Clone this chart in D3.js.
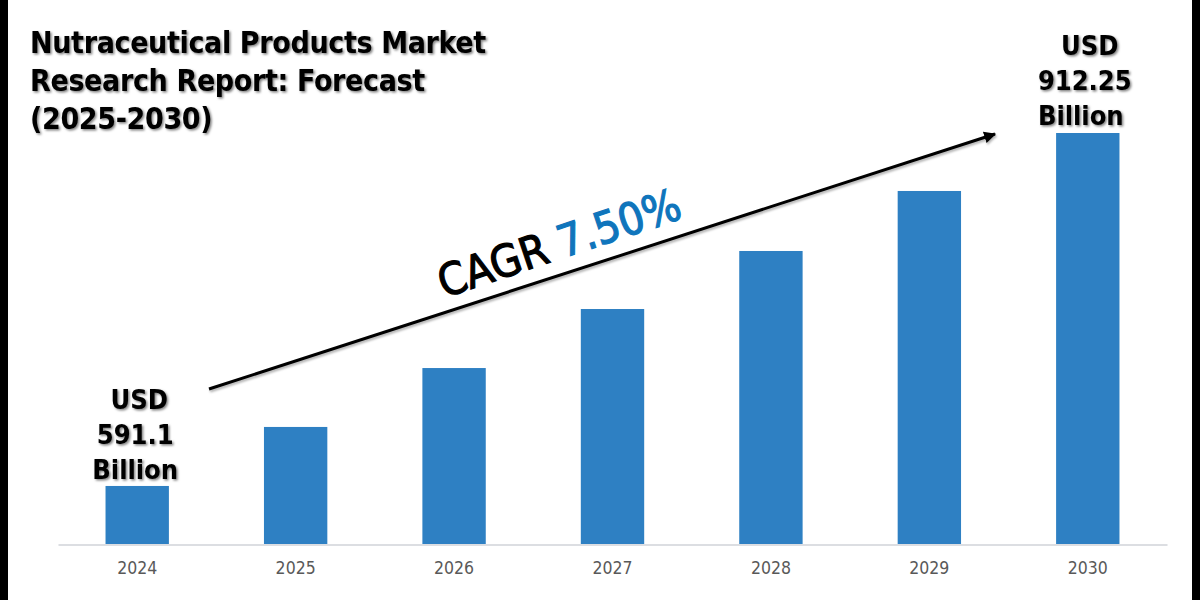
<!DOCTYPE html>
<html>
<head>
<meta charset="utf-8">
<script src="https://cdn.jsdelivr.net/npm/d3@7"></script>
<style>
  html, body { margin: 0; padding: 0; background: #fff; }
  text { font-family: "DejaVu Sans Condensed", "DejaVu Sans", sans-serif; font-stretch: condensed; }
</style>
</head>
<body>
<div id="chart"></div>
<script>
const years = ["2024", "2025", "2026", "2027", "2028", "2029", "2030"];
const values = [591.1, 644.8, 698.4, 752.1, 804.9, 859.5, 912.25];
const titleLines = ["Nutraceutical Products Market", "Research Report: Forecast", "(2025-2030)"];
const startLabel = ["USD", "591.1", "Billion"];
const endLabel = ["USD", "912.25", "Billion"];

const svg = d3.select("#chart").append("svg")
  .attr("width", 1200)
  .attr("height", 600)
  .style("display", "block");

const defs = svg.append("defs");

const shadow = defs.append("filter").attr("id", "shadow")
  .attr("x", "-10%").attr("y", "-10%").attr("width", "120%").attr("height", "130%");
shadow.append("feDropShadow")
  .attr("dx", 1.5).attr("dy", 1.5).attr("stdDeviation", 1.2)
  .attr("flood-color", "#000").attr("flood-opacity", 0.5);

const lineShadow = defs.append("filter").attr("id", "lineShadow")
  .attr("filterUnits", "userSpaceOnUse")
  .attr("x", 190).attr("y", 110).attr("width", 830).attr("height", 300);
lineShadow.append("feDropShadow")
  .attr("dx", 1).attr("dy", 2).attr("stdDeviation", 1.2)
  .attr("flood-color", "#000").attr("flood-opacity", 0.3);

defs.append("marker").attr("id", "head")
  .attr("viewBox", "0 0 10 10").attr("refX", 9).attr("refY", 5)
  .attr("markerWidth", 4).attr("markerHeight", 4).attr("orient", "auto")
  .append("path").attr("d", "M0,0L10,5L0,10Z").attr("fill", "#000");

// black edges of the image
svg.append("rect").attr("x", 0).attr("y", 0).attr("width", 8).attr("height", 600).attr("fill", "#000");
svg.append("rect").attr("x", 1192).attr("y", 0).attr("width", 8).attr("height", 600).attr("fill", "#000");

// bars start well above zero in the picture, so the axis does too
const x = d3.scaleBand().domain(years).range([58, 1167]).paddingInner(0.6).paddingOuter(0.3);
const y = d3.scaleLinear().domain([538.3, 912.25]).range([544, 133]);

svg.selectAll("rect.bar")
  .data(years)
  .enter().append("rect")
  .attr("class", "bar")
  .attr("x", d => x(d))
  .attr("width", x.bandwidth())
  .attr("y", (d, i) => y(values[i]))
  .attr("height", (d, i) => 544 - y(values[i]))
  .attr("fill", "#2e80c3");

const xAxis = svg.append("g")
  .attr("transform", "translate(0,544.5)")
  .call(d3.axisBottom(x).tickSize(0).tickPadding(17));
xAxis.attr("font-family", null);
xAxis.select(".domain").attr("stroke", "#d0d3d8").attr("stroke-width", 1.5);
xAxis.selectAll("text")
  .style("font-size", "17.5px")
  .attr("fill", "#595959");

// title
svg.append("g").attr("filter", "url(#shadow)")
  .selectAll("text")
  .data(titleLines)
  .enter().append("text")
  .attr("x", 30)
  .attr("y", (d, i) => 53 + i * 38)
  .attr("font-size", 30)
  .attr("font-weight", 700)
  .attr("letter-spacing", -0.35)
  .attr("fill", "#000")
  .text(d => d);

// value labels, lines are not quite centred in the original
function label(lines, year, top, nudge) {
  svg.append("g").attr("filter", "url(#shadow)")
    .selectAll("text")
    .data(lines)
    .enter().append("text")
    .attr("x", (d, i) => x(year) + x.bandwidth() / 2 + nudge[i])
    .attr("y", (d, i) => top + i * 35)
    .attr("text-anchor", "middle")
    .attr("font-size", 27)
    .attr("font-weight", 700)
    .attr("fill", "#000")
    .text(d => d);
}
label(startLabel, "2024", 409, [2, -2, -2]);
label(endLabel, "2030", 55, [2, -3, -7]);

// trend arrow
svg.append("line")
  .attr("x1", 209).attr("y1", 389)
  .attr("x2", 995).attr("y2", 134)
  .attr("stroke", "#000")
  .attr("stroke-width", 3)
  .attr("marker-end", "url(#head)")
  .attr("filter", "url(#lineShadow)");

// CAGR text sits along the arrow
const cagr = svg.append("text")
  .attr("transform", "translate(444,298) rotate(-18.5)")
  .attr("font-size", 44.5)
  .attr("stroke-width", 1.2);
cagr.append("tspan").attr("fill", "#000").attr("stroke", "#000").text("CAGR ");
cagr.append("tspan").attr("fill", "#0f75bc").attr("stroke", "#0f75bc").text("7.50%");
</script>
</body>
</html>
